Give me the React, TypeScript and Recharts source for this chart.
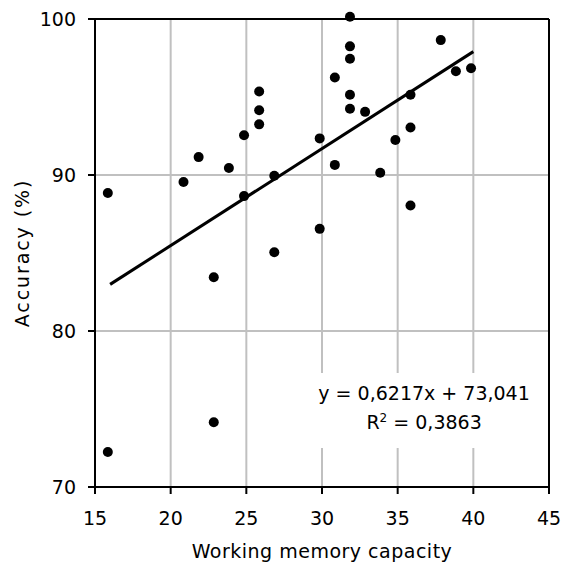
import React from 'react';
import { ScatterChart, Scatter, XAxis, YAxis, CartesianGrid, ReferenceLine, ReferenceArea } from 'recharts';

// the chart fills the whole window
document.body.style.margin = '0';

// Working memory capacity (x) vs accuracy in % (y), one entry per participant
const capacity = [16, 16, 21, 22, 23, 23, 24, 25, 25, 26, 26, 26, 27, 27, 30, 30, 31, 31, 32, 32, 32, 32, 32, 33, 34, 35, 36, 36, 36, 38, 39, 40];
const accuracy = [88.7, 72.1, 89.4, 91.0, 83.3, 74.0, 90.3, 92.4, 88.5, 95.2, 94.0, 93.1, 89.8, 84.9, 92.2, 86.4, 96.1, 90.5, 100, 98.1, 97.3, 95.0, 94.1, 93.9, 90.0, 92.1, 95.0, 92.9, 87.9, 98.5, 96.5, 96.7];

// Linear trend shown on the chart
const slope = 0.6217;
const intercept = 73.041;
const rSquared = 0.3863;
const fitRange = [16, 40];

const xTicks = [15, 20, 25, 30, 35, 40, 45];
const yTicks = [70, 80, 90, 100];

const points = capacity.map((x, i) => ({ x, y: accuracy[i] }));
const trend = fitRange.map((x) => ({ x, y: slope * x + intercept }));

const comma = (v: number) => String(v).replace('.', ',');

// markers in the original sit a little up-left of their value
const Dot = (p: any) => <circle cx={p.cx - 2.3} cy={p.cy - 2.3} r={5} fill="#000" />;
const NoDot = () => <g />;

const EquationLabel = (props: any) => {
    const vb = props.viewBox || { x: 312, y: 373, width: 224, height: 75 };
    const cx = vb.x + vb.width / 2;
    const cy = vb.y + vb.height / 2;
    return (
        <g fill="#000" fontSize={19}>
            <text x={cx} y={cy - 10.5} textAnchor="middle">
                y = {comma(slope)}x + {comma(intercept)}
            </text>
            <text x={cx} y={cy + 18.5} textAnchor="middle">
                R<tspan fontSize={12} dy={-7}>2</tspan>
                <tspan dy={7}> = {comma(rSquared)}</tspan>
            </text>
        </g>
    );
};

const App = () => {
    return (
        <div style={{ width: 563, height: 565, background: '#fff', fontFamily: '"DejaVu Sans", sans-serif' }}>
            <ScatterChart width={563} height={565} margin={{ top: 19, right: 14, bottom: 0, left: 0 }}>
                <CartesianGrid stroke="#c0c0c0" strokeWidth={2} />
                <ReferenceArea
                    x1={29.34}
                    x2={44.15}
                    y1={72.5}
                    y2={77.3}
                    fill="#fff"
                    fillOpacity={1}
                    stroke="none"
                    label={(p: any) => <EquationLabel {...p} />}
                />
                <XAxis
                    type="number"
                    dataKey="x"
                    domain={[15, 45]}
                    ticks={xTicks}
                    interval={0}
                    height={78}
                    axisLine={{ stroke: '#000', strokeWidth: 2 }}
                    tickLine={{ stroke: '#000', strokeWidth: 2 }}
                    tickSize={7}
                    tickMargin={17.5}
                    tick={{ fill: '#000', fontSize: 19 }}
                    label={{ value: 'Working memory capacity', position: 'insideBottom', offset: 7, fontSize: 19, fill: '#000', letterSpacing: 0.5 }}
                />
                <YAxis
                    type="number"
                    dataKey="y"
                    domain={[70, 100]}
                    ticks={yTicks}
                    interval={0}
                    width={95}
                    axisLine={{ stroke: '#000', strokeWidth: 2 }}
                    tickLine={{ stroke: '#000', strokeWidth: 2 }}
                    tickSize={7}
                    tickMargin={12}
                    tick={{ fill: '#000', fontSize: 19 }}
                    label={{ value: 'Accuracy (%)', angle: -90, position: 'insideLeft', offset: 22, textAnchor: 'middle', fontSize: 19, fill: '#000', letterSpacing: 1.9 }}
                />
                <ReferenceLine y={100} stroke="#000" strokeWidth={2} />
                <ReferenceLine x={45} stroke="#000" strokeWidth={2} />
                <Scatter data={trend} line={{ stroke: '#000', strokeWidth: 3 }} shape={NoDot} isAnimationActive={false} />
                <Scatter data={points} shape={Dot} isAnimationActive={false} />
            </ScatterChart>
        </div>
    );
};

export default App;
